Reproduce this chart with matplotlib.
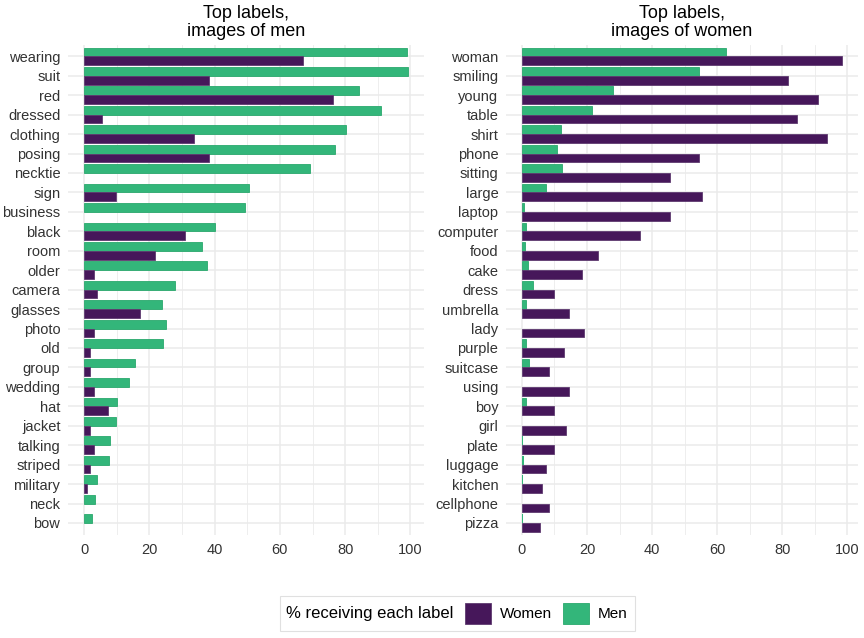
import numpy as np
import matplotlib.pyplot as plt
from matplotlib.patches import Patch
from matplotlib.offsetbox import HPacker

plt.rcParams['font.family'] = ['Liberation Sans', 'DejaVu Sans']

# labels most often given to images of men
men_labels = ["wearing", "suit", "red", "dressed", "clothing", "posing", "necktie",
              "sign", "business", "black", "room", "older", "camera", "glasses",
              "photo", "old", "group", "wedding", "hat", "jacket", "talking",
              "striped", "military", "neck", "bow"]
men_pct_men = [99.0, 99.2, 84.1, 90.9, 80.4, 76.8, 69.3, 50.4, 49.3, 40.0, 36.2, 37.6,
               27.9, 24.0, 25.2, 24.3, 15.7, 13.8, 10.1, 9.8, 7.8, 7.6, 4.0, 3.2, 2.3]
men_pct_women = [67.1, 38.2, 76.2, 5.5, 33.7, 38.2, 0.0, 9.9, 0.0, 30.8, 21.7, 2.9,
                 3.8, 17.2, 2.9, 1.8, 1.8, 2.9, 7.2, 1.8, 2.9, 1.8, 0.9, 0.0, 0.0]

# labels most often given to images of women
women_labels = ["woman", "smiling", "young", "table", "shirt", "phone", "sitting",
                "large", "laptop", "computer", "food", "cake", "dress", "umbrella",
                "lady", "purple", "suitcase", "using", "boy", "girl", "plate",
                "luggage", "kitchen", "cellphone", "pizza"]
women_pct_men = [62.6, 54.4, 28.1, 21.6, 11.9, 10.7, 12.4, 7.3, 0.6, 1.4, 0.9, 1.8,
                 3.3, 1.2, 0.0, 1.4, 2.3, 0.0, 1.2, 0.0, 0.3, 0.5, 0.3, 0.0, 0.2]
women_pct_women = [98.2, 81.7, 90.8, 84.5, 93.7, 54.5, 45.5, 55.4, 45.5, 36.4, 23.5,
                   18.3, 10.0, 14.4, 19.0, 12.8, 8.2, 14.4, 10.0, 13.5, 10.0, 7.3,
                   6.3, 8.2, 5.4]

WOMEN_COL = "#46175a"
WOMEN_EDGE = "#5e3a70"
MEN_COL = "#33b67a"
MEN_EDGE = "#2aa86d"
GRID = "#ebebeb"
TXT = "#333333"


def panel(ax, labels, men, women, title):
    n = len(labels)
    y = np.arange(n)
    # no outline on empty bars so they don't show as slivers
    ax.barh(y - 0.225, men, height=0.45, color=MEN_COL, edgecolor=MEN_EDGE,
            linewidth=[0.6 if v > 0.5 else 0 for v in men], zorder=3)
    ax.barh(y + 0.225, women, height=0.45, color=WOMEN_COL, edgecolor=WOMEN_EDGE,
            linewidth=[0.6 if v > 0.5 else 0 for v in women], zorder=3)
    top = max(max(men), max(women))
    ax.set_xlim(-0.05 * top, 1.05 * top)
    ax.set_ylim(n - 0.4, -0.6)
    ax.set_yticks(y)
    ax.set_yticklabels(labels)
    ax.set_xticks([0, 20, 40, 60, 80, 100])
    ax.set_xticks([10, 30, 50, 70, 90], minor=True)
    ax.grid(True, which="major", color=GRID, linewidth=1.1, zorder=0)
    ax.grid(True, which="minor", axis="x", color=GRID, linewidth=0.6, zorder=0)
    ax.tick_params(which="both", length=0, labelsize=10.5, labelcolor=TXT)
    ax.tick_params(axis="y", pad=5.5)
    ax.tick_params(axis="x", pad=6)
    for s in ax.spines.values():
        s.set_visible(False)
    ax.set_title(title, fontsize=13, linespacing=1.1, pad=6)


fig = plt.figure(figsize=(8.64, 6.38), dpi=100)
ax1 = fig.add_axes([0.0787, 0.162, 0.412, 0.768])
ax2 = fig.add_axes([0.5856, 0.162, 0.407, 0.768])

panel(ax1, men_labels, men_pct_men, men_pct_women, "Top labels,\nimages of men")
panel(ax2, women_labels, women_pct_men, women_pct_women, "Top labels,\nimages of women")

handles = [Patch(facecolor=WOMEN_COL, edgecolor=WOMEN_EDGE, linewidth=0.6),
           Patch(facecolor=MEN_COL, edgecolor=MEN_EDGE, linewidth=0.6)]
leg = fig.legend(handles, ["Women", "Men"], ncol=2, loc="center",
                 bbox_to_anchor=(0.529, 0.0385), title="% receiving each label",
                 fontsize=11, title_fontsize=12, frameon=True, fancybox=False,
                 edgecolor="#d9d9d9", handlelength=1.7, handleheight=1.7,
                 handletextpad=0.6, columnspacing=0.7, borderpad=0.45)
# put the legend title to the left of the keys, like ggplot's bottom legend
leg._legend_box.__class__ = HPacker
leg._legend_box.sep = 8
leg._legend_box.align = "center"
leg.get_frame().set_linewidth(0.8)

fig.savefig("out.png", dpi=100)
